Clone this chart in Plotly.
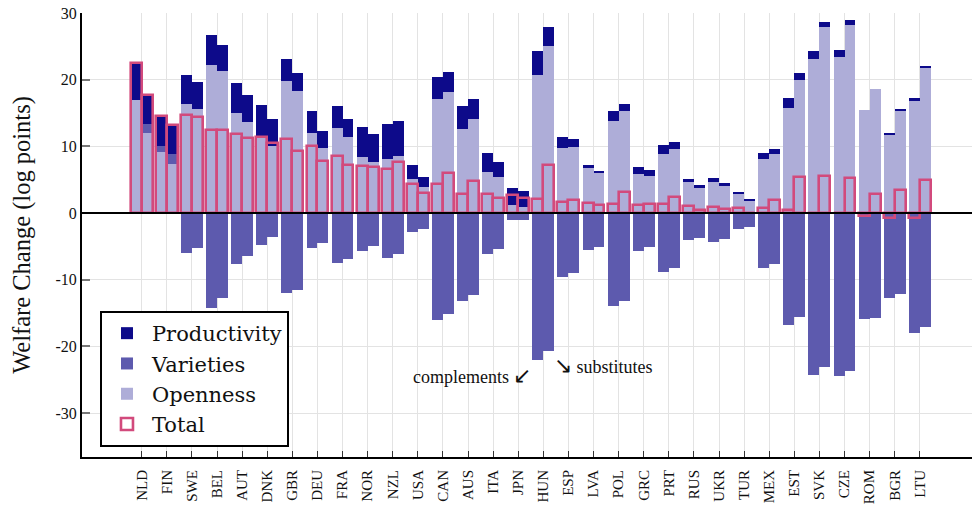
import plotly.graph_objects as go

countries = ["NLD", "FIN", "SWE", "BEL", "AUT", "DNK", "GBR", "DEU", "FRA", "NOR", "NZL",
             "USA", "CAN", "AUS", "ITA", "JPN", "HUN", "ESP", "LVA", "POL", "GRC", "PRT",
             "RUS", "UKR", "TUR", "MEX", "EST", "SVK", "CZE", "ROM", "BGR", "LTU"]

# complements (left bar of each pair)
openness_c = [16.9, 9.15, 16.3, 22.15, 14.95, 11.4, 19.75, 12.0, 12.7, 8.35, 8.05,
              5.05, 17.05, 12.55, 6.1, 1.15, 20.65, 9.75, 6.7, 13.75, 5.8, 8.8,
              4.6, 4.6, 2.95, 8.05, 15.7, 23.05, 23.35, 15.4, 11.65, 16.75]
varieties_c = [0.0, 0.9, -6.0, -14.25, -7.65, -4.8, -12.0, -5.25, -7.5, -5.75, -6.75,
               -2.85, -16.05, -13.2, -6.15, -1.0, -22.1, -9.65, -5.6, -13.95, -5.7, -8.85,
               -4.05, -4.35, -2.4, -8.25, -16.8, -24.3, -24.45, -15.9, -12.75, -18.0]
productivity_c = [5.6, 4.5, 4.35, 4.5, 4.5, 4.75, 3.3, 3.25, 3.3, 4.5, 5.25,
                  2.1, 3.3, 3.45, 2.85, 2.55, 3.6, 1.6, 0.45, 1.5, 1.05, 1.35,
                  0.45, 0.6, 0.15, 0.9, 1.5, 1.2, 1.05, 0.0, 0.3, 0.45]

# substitutes (right bar of each pair)
openness_s = [12.0, 7.35, 15.55, 21.25, 13.6, 10.0, 18.25, 9.75, 11.4, 7.6, 8.55,
              3.85, 18.1, 14.05, 5.35, 0.9, 25.0, 9.85, 5.95, 15.25, 5.5, 9.55,
              3.7, 4.0, 1.9, 8.8, 19.9, 27.85, 28.15, 18.55, 15.4, 21.7]
varieties_s = [1.4, 1.45, -5.25, -12.75, -6.45, -3.6, -11.6, -4.5, -6.9, -4.95, -6.15,
               -2.4, -15.15, -12.3, -5.4, -1.0, -20.7, -9.05, -5.1, -13.2, -5.1, -8.25,
               -3.75, -3.9, -2.1, -7.65, -15.6, -23.1, -23.7, -15.75, -12.15, -17.1]
productivity_s = [4.35, 4.45, 4.05, 3.9, 4.05, 4.05, 2.7, 2.5, 2.65, 4.2, 5.2,
                  1.5, 3.0, 3.0, 2.25, 2.35, 2.85, 1.2, 0.3, 1.05, 0.9, 1.05,
                  0.45, 0.45, 0.15, 0.75, 1.05, 0.75, 0.75, 0.0, 0.15, 0.3]

y_ticks = [30, 20, 10, 0, -10, -20, -30]
y_tick_labels = ["30", "20", "10", "0", "-10", "-20", "-30"]

total_c = [o + v + p for o, v, p in zip(openness_c, varieties_c, productivity_c)]
total_s = [o + v + p for o, v, p in zip(openness_s, varieties_s, productivity_s)]

C_PROD = "#0d0a8a"
C_VAR = "#5d5aae"
C_OPEN = "#aeadd8"
C_TOTAL = "#d24a7c"

SERIF = "Liberation Serif"
BW = 0.435
idx = list(range(len(countries)))
x_left = [i - BW / 2 for i in idx]
x_right = [i + BW / 2 for i in idx]

fig = go.Figure()

components = [
    ("Openness", openness_c, openness_s, C_OPEN, 3),
    ("Varieties", varieties_c, varieties_s, C_VAR, 2),
    ("Productivity", productivity_c, productivity_s, C_PROD, 1),
]
for name, vals_c, vals_s, color, rank in components:
    fig.add_trace(go.Bar(x=x_left, y=vals_c, width=BW, name=name, legendgroup=name,
                         legendrank=rank, marker=dict(color=color, line=dict(width=0))))
    fig.add_trace(go.Bar(x=x_right, y=vals_s, width=BW, name=name, legendgroup=name,
                         showlegend=False, marker=dict(color=color, line=dict(width=0))))

# totals drawn as outlined bars on an overlaid axis so they are not stacked
fig.add_trace(go.Bar(x=x_left, y=total_c, width=BW, name="Total", legendgroup="Total",
                     legendrank=4, xaxis="x2",
                     marker=dict(color="rgba(255,255,255,0)", line=dict(color=C_TOTAL, width=2.6))))
fig.add_trace(go.Bar(x=x_right, y=total_s, width=BW, name="Total", legendgroup="Total",
                     showlegend=False, xaxis="x2",
                     marker=dict(color="rgba(255,255,255,0)", line=dict(color=C_TOTAL, width=2.6))))

x_range = [-2.38, 33.08]
y_range = [-36.6, 30]

fig.update_layout(
    width=972, height=509,
    margin=dict(l=82, r=0, t=13, b=52),
    paper_bgcolor="white", plot_bgcolor="white",
    barmode="relative", bargap=0,
    font=dict(family=SERIF, color="#111111"),
    xaxis=dict(range=x_range, tickmode="array", tickvals=idx, ticktext=countries,
               tickangle=-90, tickfont=dict(size=15, family=SERIF, color="#111"),
               showgrid=True, gridcolor="#e3e3e3", gridwidth=1,
               ticks="inside", ticklen=6, tickcolor="#333", tickwidth=1,
               showline=True, linecolor="black", linewidth=2, zeroline=False,
               ticklabelstandoff=5),
    xaxis2=dict(range=x_range, overlaying="x", visible=False),
    yaxis=dict(range=y_range, tickmode="array", tickvals=y_ticks, ticktext=y_tick_labels,
               tickfont=dict(size=16, family=SERIF, color="#111"),
               showgrid=True, gridcolor="#e3e3e3", gridwidth=1,
               ticks="inside", ticklen=8, tickcolor="#777", tickwidth=1.5,
               showline=True, linecolor="black", linewidth=2, zeroline=False,
               title=dict(text="Welfare Change (log points)", font=dict(size=24.5, family=SERIF),
                          standoff=18)),
    legend=dict(x=0.0202, y=0.0225, xanchor="left", yanchor="bottom",
                bgcolor="white", bordercolor="black", borderwidth=2,
                font=dict(size=21, family="DejaVu Serif", color="#111"),
                tracegroupgap=0, itemwidth=40),
    shapes=[dict(type="line", xref="paper", x0=0, x1=1, yref="y", y0=0, y1=0,
                 line=dict(color="black", width=2), layer="above")],
    annotations=[
        dict(x=15.6, y=-24.4, xref="x", yref="y",
             text="complements <span style='font-size:22px'>\u2199</span>", showarrow=False,
             xanchor="right", yanchor="middle", font=dict(size=18, family=SERIF, color="#111")),
        dict(x=16.35, y=-22.8, xref="x", yref="y",
             text="<span style='font-size:22px'>\u2198</span> substitutes", showarrow=False,
             xanchor="left", yanchor="middle", font=dict(size=18, family=SERIF, color="#111")),
    ],
)

fig.write_html("out.html")
